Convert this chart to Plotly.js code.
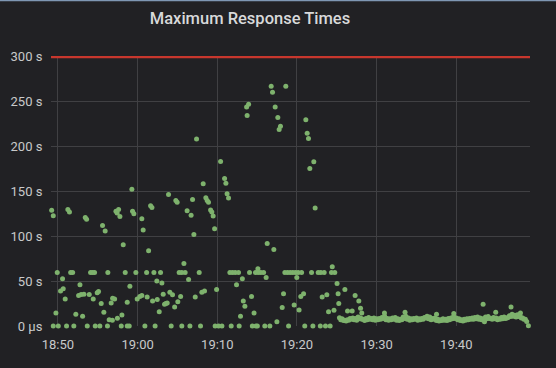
<!DOCTYPE html>
<html>
<head>
<meta charset="utf-8">
<script src="https://cdn.plot.ly/plotly-3.0.1.min.js"></script>
<style>
html,body{margin:0;padding:0;background:#212124;}
#chart{width:556px;height:368px;}
</style>
</head>
<body>
<div id="chart"></div>
<script>
// Scattered samples (clock time, max response time in seconds)
var sampleTimes = [
"18:49:13","18:49:25","18:49:25","18:50:03","18:49:45","18:49:55","18:50:20","18:50:35","18:50:40","18:50:55",
"18:51:05","18:51:15","18:51:27","18:51:36","18:51:51","18:52:00","18:52:15","18:52:36","18:52:46","18:52:55",
"18:53:06","18:53:16","18:53:26","18:53:36","18:53:41","18:53:56","18:54:06","18:54:21","18:54:26","18:54:36",
"18:54:41","18:54:56","18:55:06","18:55:16","18:55:26","18:55:36","18:55:46","18:55:56","18:56:13","18:56:16",
"18:56:26","18:56:41","18:56:52","18:56:50","18:57:07","18:57:17","18:57:26","18:57:28","18:57:37","18:57:47",
"18:57:57","18:58:02","18:58:12","18:58:27","18:58:42","18:58:42","18:58:57","18:59:02","18:59:17","18:59:22",
"18:59:32","18:59:47","18:59:57","19:00:17","19:00:32","19:00:32","19:00:42","19:00:55","19:01:08","19:01:12",
"19:01:23","19:01:38","19:01:48","19:01:53","19:02:03","19:02:12","19:02:25","19:02:28","19:02:43","19:02:53",
"19:03:03","19:03:13","19:03:23","19:03:33","19:03:43","19:03:53","19:04:03","19:04:13","19:04:23","19:04:39",
"19:04:48","19:04:58","19:05:03","19:05:13","19:05:24","19:05:33","19:05:33","19:05:49","19:05:58","19:06:13",
"19:06:24","19:06:34","19:06:43","19:06:54","19:07:04","19:07:14","19:07:24","19:07:44","19:07:54","19:08:04",
"19:08:14","19:08:24","19:08:34","19:08:44","19:08:54","19:09:10","19:09:19","19:09:29","19:09:40","19:09:44",
"19:09:55","19:10:10","19:10:25","19:10:35","19:10:55","19:11:05","19:11:14","19:11:25","19:11:35","19:11:45",
"19:11:55","19:12:15","19:12:25","19:12:40","19:12:45","19:12:55","19:13:09","19:13:16","19:13:28","19:13:41",
"19:13:45","19:13:56","19:14:03","19:14:18","19:14:24","19:14:37","19:14:48","19:14:51","19:15:02","19:15:06",
"19:15:08","19:15:28","19:15:49","19:15:58","19:16:08","19:16:16","19:16:36","19:16:46","19:16:56","19:17:06",
"19:17:16","19:17:29","19:17:36","19:17:46","19:17:56","19:18:09","19:18:19","19:18:29","19:18:36","19:18:49",
"19:18:57","19:19:09","19:19:29","19:19:39","19:19:49","19:19:59","19:20:09","19:20:16","19:20:29","19:20:35",
"19:20:50","19:20:59","19:21:07","19:21:17","19:21:27","19:21:37","19:21:50","19:22:00","19:22:07","19:22:17",
"19:22:40","19:22:56","19:23:00","19:23:10","19:23:25","19:23:35","19:23:45","19:23:58","19:24:10","19:24:20",
"19:24:26","19:24:39","19:24:45","19:25:02","19:25:10","19:25:15","19:26:01","19:26:21","19:26:56","19:27:18",
"19:27:46","19:27:59","19:28:08","19:30:59","19:33:34","19:37:31","19:39:41","19:43:22","19:43:32","19:44:57",
"19:46:52","19:48:03","19:49:03"
];
var sampleValues = [
129,123,0,0,14.5,59.6,39,52.6,41.4,30,
0,130,127,59.6,59.6,0,13,34,46,35,
10.8,35.5,121,119,0,35,59.6,59.6,30,59.6,
0,37,38.4,0,25,112,15.3,106,0,59.6,
7,25.7,31,6.3,30,128,126,8.6,130,122,
0,12.3,90.6,59.6,26.5,0,0,44.4,152.5,128,
125,59.6,30,33,34,119.7,107,0,59.6,32.4,
84,134,132,28,59.6,0,50.3,29.5,16,59.6,
48,35.5,24.3,25,25.7,146.5,37.7,0,34.7,21.3,
140,138,27,59.6,33,59.6,0,69.7,59.6,128.6,
51.8,0,123.4,141,102,32.4,208.4,59.6,0,37.7,
158.5,39,143,140,138,129.4,127,122.7,108.5,0,
40.6,0,183.5,0,164.4,159.2,147.3,142.8,59.6,0,
59.6,59.6,45.9,59.6,0,10.8,52.6,28,22,244.2,
234.6,247.2,59.6,33,0,14.5,59.6,0,0,63.8,
59.6,59.6,59.6,0,54,92,0,267.3,260.6,85.4,
244.2,4.8,232.3,219,222.6,20.5,36,59.6,267.3,59.6,
0,59.6,59.6,23.5,59.6,54,59.6,17.8,33,59.6,
36,0,230,215,209,175.6,59.6,0,183,131.6,
59.6,0,59.6,32.4,59.6,0,34.7,16,0,59.6,
66,17.6,59.6,47.3,36,25,40.6,16.8,16.8,34,
28,19.8,14.5,14.5,15.3,13,13.8,24.3,4.8,15.3,
21.3,14.5,0.3
];
// Steady low band after 19:25 (upper edge)
var bandTimes = [
"19:25:20","19:25:40","19:26:00","19:26:20","19:26:40","19:27:00","19:27:20","19:27:40","19:28:00","19:28:20",
"19:28:40","19:29:00","19:29:20","19:29:40","19:30:00","19:30:20","19:30:40","19:31:00","19:31:20","19:31:40",
"19:32:00","19:32:20","19:32:40","19:33:00","19:33:20","19:33:40","19:34:00","19:34:20","19:34:40","19:35:00",
"19:35:20","19:35:40","19:36:00","19:36:20","19:36:40","19:37:00","19:37:20","19:37:40","19:38:00","19:38:20",
"19:38:40","19:39:00","19:39:20","19:39:40","19:40:00","19:40:20","19:40:40","19:41:00","19:41:20","19:41:40",
"19:42:00","19:42:20","19:42:40","19:43:00","19:43:20","19:43:40","19:44:00","19:44:20","19:44:40","19:45:00",
"19:45:20","19:45:40","19:46:00","19:46:20","19:46:40","19:47:00","19:47:20","19:47:40","19:48:00","19:48:20",
"19:48:40"
];
var bandValues = [
9.3,8,6.5,7,8.5,9,8.5,10,9,7.5,
8.5,9.5,8.5,9,8,8.5,9.5,11,8.5,8,
9,9.5,8,7.5,10,11,9,8,8.5,9,
8,8.5,9.5,11,10,8.5,9,7.5,7,8,
7.5,8.5,9,10.5,9,8,7,7.5,8,8.5,
9,9.5,10,9,8,10,10.5,8.5,9.5,9,
8,9.5,10,9,11.5,13,12,12.5,11,9,
7.5
];
// Steady low band after 19:25 (lower edge, interleaved samples)
var band2Times = [
"19:25:30","19:25:50","19:26:10","19:26:30","19:26:50","19:27:10","19:27:30","19:27:50","19:28:10","19:28:30",
"19:28:50","19:29:10","19:29:30","19:29:50","19:30:10","19:30:30","19:30:50","19:31:10","19:31:30","19:31:50",
"19:32:10","19:32:30","19:32:50","19:33:10","19:33:30","19:33:50","19:34:10","19:34:30","19:34:50","19:35:10",
"19:35:30","19:35:50","19:36:10","19:36:30","19:36:50","19:37:10","19:37:30","19:37:50","19:38:10","19:38:30",
"19:38:50","19:39:10","19:39:30","19:39:50","19:40:10","19:40:30","19:40:50","19:41:10","19:41:30","19:41:50",
"19:42:10","19:42:30","19:42:50","19:43:10","19:43:30","19:43:50","19:44:10","19:44:30","19:44:50","19:45:10",
"19:45:30","19:45:50","19:46:10","19:46:30","19:46:50","19:47:10","19:47:30","19:47:50","19:48:10","19:48:30",
"19:48:50"
];
var band2Values = [
7,6,5.5,6.5,7.5,7,6.5,8,7.5,6,
7,7.5,7,6.5,7,7.5,8.5,7,6.5,7,
7.5,6.5,6,7,8.5,7.5,6.5,7,7.5,6.5,
7,7.5,9,8,7,7.5,6,5.5,6,6.5,
6,7,8,8.5,7,6,5.5,6.5,7,7.5,
7.5,8,7.5,7,6.5,8,8.5,7.5,8,7,
7.5,8,8.5,9.5,10.5,11,10,10.5,9,7.5,
5
];
var threshold = 300;
var yTickVals = [0,50,100,150,200,250,300];
var yTickText = ["0 µs","50 s","100 s","150 s","200 s","250 s","300 s"];
var xTickClock = ["18:50","19:00","19:10","19:20","19:30","19:40"];
var xRange = ["18:49:08","19:49:15"];

var day = "2024-01-01 ";
function toDate(t){ return day + t; }
var xs = sampleTimes.concat(bandTimes, band2Times).map(toDate);
var ys = sampleValues.concat(bandValues, band2Values);

var traces = [
  {
    x: [toDate(xRange[0]), toDate(xRange[1])], y: [threshold, threshold],
    type: "scatter", mode: "lines",
    line: {color: "#c8372d", width: 2.5},
    hoverinfo: "skip", showlegend: false
  },
  {
    x: xs, y: ys, type: "scatter", mode: "markers",
    marker: {color: "#7EB26D", size: 5, line: {width: 0}},
    cliponaxis: false, hoverinfo: "skip", showlegend: false
  }
];

var layout = {
  width: 556, height: 368,
  paper_bgcolor: "#212124", plot_bgcolor: "#212124",
  margin: {l: 51, r: 26, t: 56, b: 42},
  font: {family: "Roboto, 'Open Sans', sans-serif", color: "#c8c9ca", size: 13},
  title: {text: "Maximum Response Times", x: 250/556, xanchor: "center", y: 1 - 18/368, yanchor: "middle",
          font: {family: "Roboto, sans-serif", size: 16.5, color: "#d8d9da", weight: 500}},
  xaxis: {
    type: "date", range: xRange.map(toDate),
    tickvals: xTickClock.map(function(t){return toDate(t+":00");}),
    ticktext: xTickClock,
    showgrid: true, gridcolor: "#404043", gridwidth: 1,
    zeroline: false, showline: false,
    ticks: "outside", ticklen: 6, tickcolor: "rgba(0,0,0,0)",
    tickfont: {size: 13, color: "#c8c9ca"}
  },
  yaxis: {
    range: [0, 301],
    tickvals: yTickVals, ticktext: yTickText,
    showgrid: true, gridcolor: "#404043", gridwidth: 1,
    zeroline: false, showline: false,
    ticks: "outside", ticklen: 5, tickcolor: "rgba(0,0,0,0)",
    tickfont: {size: 13, color: "#c8c9ca"}
  },
  shapes: [
    {type: "line", xref: "paper", yref: "paper", x0: -51/479, x1: 1 + 26/479, y0: 1 + 55.5/270, y1: 1 + 55.5/270,
     line: {color: "#7f97b3", width: 1.5}}
  ]
};

Plotly.newPlot("chart", traces, layout, {staticPlot: true, displayModeBar: false});
</script>
</body>
</html>
